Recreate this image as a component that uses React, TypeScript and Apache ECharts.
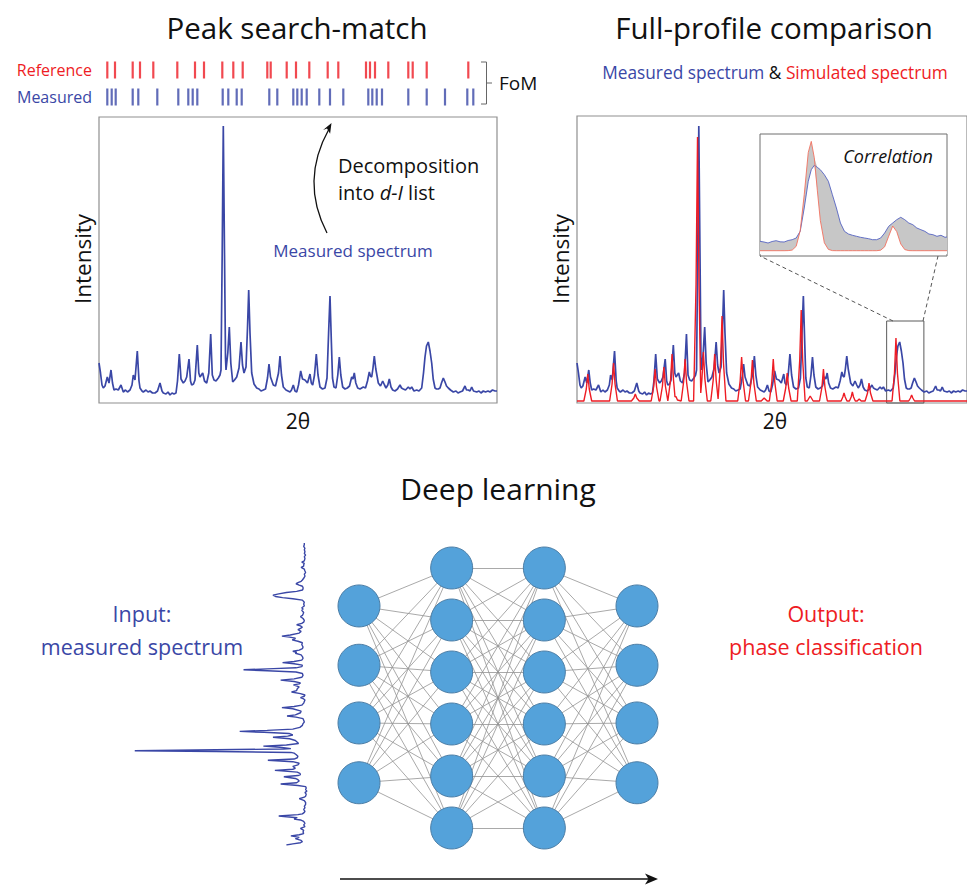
import React, { useEffect, useRef } from "react";
import * as echarts from "echarts";

// ---------- data (2θ and intensity in arbitrary units) ----------
const measured: [number, number][] = [
  [0,40],[1.5,30],[3,18],[4.3,15],[6,17],[8.3,26],[10,20],[12,33],[13.5,20],[15,13],[17,14],[19.3,13],[22,18],[24.3,11],[26.5,13],[28.5,11],[31,13],[33,18],[34.3,28],[36,23],[38.3,52],[40,22],[41,15],[43,12],[44.3,11],[47,13],[49,11],[51,12],[53.5,10],[56,10],[58.5,12],[61,20],[63,12],[64.3,10],[67,9],[69,11],[71,8],[73,10],[75,9],[77,10],[78.5,22],[80.3,49],[82,24],[84.3,20],[86,22],[87.7,26],[90,44],[91.5,22],[92.7,18],[94.5,19],[96,23],[98.3,58],[99.8,30],[101,26],[103.7,30],[105.5,22],[107.7,20],[109.8,30],[111.7,69],[113.3,28],[115,23],[117,22],[119.3,25],[121,28],[122,33],[123.2,150],[124.3,277],[125.5,150],[126.5,45],[127,33],[128.8,50],[130.3,76],[131.8,40],[133.7,21],[135.5,23],[137.7,26],[140,35],[142,61],[143.5,38],[145,30],[147,36],[148.5,75],[149.7,113],[151,70],[152.7,30],[155,19],[157.7,15],[160,14],[162,12],[164.3,13],[166.5,14],[168.5,25],[170,39],[171.5,26],[174.3,18],[176.5,17],[179.5,30],[181,47],[182.5,28],[184.3,16],[187,13],[189,12],[191,11],[192.5,13],[194.3,18],[196,12],[197.7,11],[199.5,18],[201.7,32],[203.5,24],[206,23],[208.5,20],[211,29],[212.3,20],[213.7,18],[215.5,28],[217.3,49],[219,28],[221,16],[223.5,14],[226,15],[228,25],[229.6,70],[231,107],[232.4,60],[233.5,25],[235,16],[237,15],[238.8,28],[240.3,46],[241.8,28],[243.7,16],[246,14],[248.3,15],[250.5,17],[252.7,26],[254,24],[255.3,30],[256.8,20],[258.7,15],[261,14],[264.3,16],[266.5,15],[268.5,22],[270.3,31],[271.5,27],[272.7,26],[274,35],[275.3,47],[276.8,34],[279.3,20],[281.5,17],[283.7,22],[285.5,18],[287,15],[288.8,18],[290.3,24],[292,16],[293.7,13],[296,12],[298.5,14],[301,18],[302.5,15],[304.3,14],[306.5,13],[309.3,16],[311,14],[312.7,16],[315,12],[317.7,13],[320,12],[322.7,15],[324.5,30],[326,46],[327.5,57],[329.3,61],[331,52],[332.7,40],[334.2,24],[336,15],[337.5,14],[339.3,14],[341,15],[342.5,20],[344.3,25],[346,21],[347.5,17],[349.3,15],[351.5,13],[354.3,11],[357,12],[359,10],[361,11],[363.5,12],[366,17],[367.5,13],[369.3,13],[371,12],[372.7,16],[374.5,12],[377.7,11],[380,12],[382,10],[384.3,12],[386.5,11],[389,12],[391,11],[393.5,13],[396,12],[398,12]
];

const simulated: [number, number][] = [
  [0,2],[7,2],[9.5,14],[11,29],[12.5,14],[15,2],[33.3,2],[35.8,19],[37.3,40],[38.8,19],[41.3,2],[55.5,2],[58,5],[59.5,9],[61,5],[63.5,2],
  [75.7,2],[78.2,16],[79.7,34],[81.2,16],[83.7,2],[84.7,2],[87.2,17],[88.7,36],[90.2,17],[92.7,2],[93,2],[95.5,23],[97,49],[98.5,23],[100,6],[101,6.5],[102.5,3],
  [106.3,2],[108.8,21],[110.3,44],[111.8,21],[114.3,2],[119,2],[121.5,119],[123,266],[124.5,119],[126.3,10],[127.5,24],[129,51],[130.5,24],[133,2],
  [136.5,2],[139,23],[140.5,49],[142,23],[144,4],[146.5,40],[148,87],[149.5,40],[152,2],[164,2],[166.5,22],[168,46],[169.5,22],[172,2],
  [175,2],[177.5,20],[179,43],[180.5,20],[183,2],[188,2],[191,5],[194,2],[196.3,2],[198.8,21],[200.3,44],[201.8,21],[204.3,2],
  [210.5,2],[213,15],[214.5,30],[216,15],[218.5,2],[224.8,2],[227.3,43],[228.8,93],[230.3,43],[232.8,2],[235,2],[238,7],[241,2],
  [247.5,2],[250,16],[251.5,34],[253,16],[255.5,2],[269.5,2],[271.3,6],[272.5,10],[273.7,6],[275.5,2],[278,2],[279.8,6],[281,11],[282.2,6],[284,2],
  [286,2],[288,4],[290,2],[294,2],[296.5,10],[298,20],[299.5,10],[302,2],[321.5,2],[324,30],[325.5,65],[327,30],[329.5,2],
  [338.5,2],[340.3,5],[341.5,8],[342.7,5],[344.5,2],[398,2]
];

// zoomed "Correlation" inset
const insetX = [0,4,8,12,16,20,24,28,32,36,40,44,48,51,54,57,60,64,68,72,76,80,84,88,92,96,100,104,108,112,116,120,124,128,132,136,140,144,148,152,156,160,164,168,172,176,180,184,186];
const insetMeasured = [12.7,12,11,12.5,13.3,12.2,12,13.5,14.3,16,22.7,46,72.7,84.3,88.7,86.7,84.3,79.3,72.7,59.3,46,31,22.7,20,18.7,17.7,16.7,16,15.3,14.3,14.3,16,21,27.7,31,34.3,36.7,34.3,31,29.3,26,24.3,22.7,20,19.3,17.7,18.7,16.7,17];
const insetSimulated = [3.3,3.3,3.3,3.3,3.3,3.3,3.3,3.4,3.9,7.7,23.3,59.4,101.5,112.6,96.3,63.9,33.6,11.2,4.6,3.4,3.3,3.3,3.3,3.3,3.3,3.3,3.3,3.3,3.3,3.3,3.3,3.8,7.2,17.8,28,22.4,10,4.4,3.4,3.3,3.3,3.3,3.3,3.3,3.3,3.3,3.3,3.3,3.3];

// d-I list tick marks
const referenceTicks = [8.3,16,33.7,41,54.3,78.3,96,105,123.3,134.3,143.7,168.3,171.7,187.7,197,210.3,228.7,239.3,267,271,276,289.3,309.3,313.7,327.7,369.3];
const measuredTicks = [8.3,12.7,16.7,33.7,39.3,58.3,79.3,89.3,93.7,98.3,123.7,129.3,137.7,142.7,170.3,178.3,194.3,198.3,202.7,207.7,220.3,231,244.3,269.3,273.3,277.7,283,309.3,327.7,346,368.3,374.3];

// neural network
const layerX = [1, 2, 3, 4];
const outerY = [1.77, 0.63, -0.48, -1.63];
const hiddenY = [2.5, 1.5, 0.5, -0.5, -1.5, -2.5];
const layerNodes = [outerY, hiddenY, hiddenY, outerY];

const BLUE = "#3a47a6";
const RED = "#ee1c24";
const F = "'Open Sans', 'Noto Sans', sans-serif";

export default function App() {
  const ref = useRef<HTMLDivElement>(null);
  useEffect(() => {
    if (!ref.current) return;
    const chart = echarts.init(ref.current, undefined, { renderer: "svg" });

    const insetUpper = insetX.map((x, i) => [x, Math.max(insetMeasured[i], insetSimulated[i])]);
    const insetLower = insetX.map((x, i) => [x, Math.min(insetMeasured[i], insetSimulated[i])]);

    const nodes: number[][] = [];
    layerNodes.forEach((ys, li) => ys.forEach((y) => nodes.push([layerX[li], y])));
    const edges: any[] = [];
    for (let li = 0; li < layerNodes.length - 1; li++) {
      layerNodes[li].forEach((ya) =>
        layerNodes[li + 1].forEach((yb) =>
          edges.push({ coords: [[layerX[li], ya], [layerX[li + 1], yb]] })
        )
      );
    }

    const txt = (x: number, y: number, text: string, size: number, fill: string, align = "center", extra: any = {}) => ({
      type: "text",
      x,
      y,
      ...extra,
      style: {
        text,
        fontSize: size,
        fontFamily: F,
        fill,
        align,
        textAlign: align,
        verticalAlign: "middle",
        textVerticalAlign: "middle",
        ...(extra.style || {}),
      },
    });

    const ax = (gridIndex: number, min: number, max: number, inverse = false) => ({
      type: "value",
      gridIndex,
      min,
      max,
      inverse,
      show: false,
      splitLine: { show: false },
    });

    const option: any = {
      animation: false,
      backgroundColor: "#ffffff",
      grid: [
        { left: 99, top: 117, width: 398, height: 286, show: true, borderColor: "#8f8f8f", borderWidth: 1.2 },
        { left: 577, top: 116, width: 398, height: 287, show: true, borderColor: "#8f8f8f", borderWidth: 1.2 },
        { left: 760, top: 134, width: 187, height: 122, show: true, borderColor: "#6e6e6e", borderWidth: 1, backgroundColor: "#ffffff" },
        { left: 99, top: 70, width: 398, height: 27 },
        { left: 129, top: 543, width: 183, height: 302 },
        { left: 312.67, top: 516, width: 370.67, height: 364 },
      ],
      xAxis: [ax(0, 0, 398), ax(1, 0, 398), ax(2, 0, 186), ax(3, 0, 398), ax(4, 0, 286, true), ax(5, 0.5, 4.5)],
      yAxis: [ax(0, 0, 286), ax(1, 0, 287), ax(2, -2, 120), ax(3, 0, 1), ax(4, 0, 398), ax(5, -3.5, 3.5)],
      series: [
        {
          type: "line", xAxisIndex: 0, yAxisIndex: 0, data: measured, symbol: "none",
          lineStyle: { color: BLUE, width: 1.7 }, z: 3,
        },
        {
          type: "line", xAxisIndex: 1, yAxisIndex: 1, data: measured, symbol: "none",
          lineStyle: { color: BLUE, width: 1.7 }, z: 3,
        },
        {
          type: "line", xAxisIndex: 1, yAxisIndex: 1, data: simulated, symbol: "none",
          lineStyle: { color: RED, width: 1.4 }, z: 4,
          markArea: {
            silent: true,
            itemStyle: { color: "rgba(0,0,0,0)", borderColor: "#5a5a5a", borderWidth: 1 },
            data: [[{ xAxis: 316, yAxis: 0 }, { xAxis: 354, yAxis: 82 }]],
          },
        },
        {
          type: "line", xAxisIndex: 2, yAxisIndex: 2, data: insetUpper, symbol: "none",
          lineStyle: { width: 0, opacity: 0 }, areaStyle: { color: "#c7c7c7", opacity: 1, origin: 0 }, z: 5,
        },
        {
          type: "line", xAxisIndex: 2, yAxisIndex: 2, data: insetLower, symbol: "none",
          lineStyle: { width: 0, opacity: 0 }, areaStyle: { color: "#ffffff", opacity: 1, origin: 0 }, z: 6,
        },
        {
          type: "line", xAxisIndex: 2, yAxisIndex: 2, data: insetX.map((x, i) => [x, insetMeasured[i]]), symbol: "none",
          lineStyle: { color: "#5563c2", width: 0.9 }, z: 7,
        },
        {
          type: "line", xAxisIndex: 2, yAxisIndex: 2, data: insetX.map((x, i) => [x, insetSimulated[i]]), symbol: "none",
          lineStyle: { color: "#f2705f", width: 0.9 }, z: 7,
        },
        {
          type: "scatter", xAxisIndex: 3, yAxisIndex: 3, data: referenceTicks.map((x) => [x, 1]),
          symbol: "rect", symbolSize: [2.2, 17], itemStyle: { color: RED },
        },
        {
          type: "scatter", xAxisIndex: 3, yAxisIndex: 3, data: measuredTicks.map((x) => [x, 0]),
          symbol: "rect", symbolSize: [2.2, 17], itemStyle: { color: BLUE },
        },
        {
          type: "line", xAxisIndex: 4, yAxisIndex: 4, data: measured.map(([t, i]) => [i, t]), symbol: "none",
          lineStyle: { color: BLUE, width: 1.4 },
        },
        {
          type: "lines", coordinateSystem: "cartesian2d", xAxisIndex: 5, yAxisIndex: 5, data: edges, silent: true,
          lineStyle: { color: "#939393", width: 0.8, opacity: 1 }, z: 2,
        },
        {
          type: "scatter", xAxisIndex: 5, yAxisIndex: 5, data: nodes, symbolSize: 42, silent: true,
          itemStyle: { color: "#54a2da", borderColor: "#4c7ea6", borderWidth: 1, opacity: 1 }, z: 3,
        },
      ],
      graphic: [
        txt(297, 27, "Peak search-match", 29.5, "#111"),
        txt(774, 27, "Full-profile comparison", 29.5, "#111"),
        txt(498, 488, "Deep learning", 30, "#111"),
        txt(92, 70, "Reference", 16, RED, "right"),
        txt(92, 97, "Measured", 16, BLUE, "right"),
        txt(499, 83, "FoM", 19, "#111", "left"),
        {
          type: "polyline", shape: { points: [[481, 62], [486.5, 62], [486.5, 104], [481, 104]] },
          style: { stroke: "#666", lineWidth: 1, fill: "none" },
        },
        { type: "line", shape: { x1: 486.5, y1: 83, x2: 492, y2: 83 }, style: { stroke: "#666", lineWidth: 1 } },
        txt(82, 259, "Intensity", 22.5, "#111", "center", { rotation: Math.PI / 2 }),
        txt(560, 259, "Intensity", 22.5, "#111", "center", { rotation: Math.PI / 2 }),
        txt(298, 421, "2θ", 21, "#111"),
        txt(775, 421, "2θ", 21, "#111"),
        txt(338, 165, "Decomposition", 20, "#111", "left"),
        txt(338, 192, "into {i|d-I} list", 20, "#111", "left", {
          style: { rich: { i: { fontStyle: "italic", fontSize: 20, fontFamily: F, fill: "#111" } } },
        }),
        txt(353, 250, "Measured spectrum", 17, BLUE),
        {
          type: "bezierCurve",
          shape: { x1: 327, y1: 233, x2: 329, y2: 129, cpx1: 300, cpy1: 181 },
          style: { stroke: "#111", lineWidth: 1.3, fill: "none" },
        },
        {
          type: "polygon",
          shape: { points: [[331.5, 123], [323.1, 129.9], [327, 128.5], [330.1, 133.8]] },
          style: { fill: "#111" },
        },
        txt(775, 72, "{b|Measured spectrum} {k|&} {r|Simulated spectrum}", 17.3, "#111", "center", {
          style: {
            rich: {
              b: { fill: BLUE, fontSize: 17.3, fontFamily: F },
              k: { fill: "#111", fontSize: 17.3, fontFamily: F },
              r: { fill: RED, fontSize: 17.3, fontFamily: F },
            },
          },
        }),
        txt(888, 156, "Correlation", 18, "#111", "center", { z: 10, style: { fontStyle: "italic" } }),
        {
          type: "line", shape: { x1: 893, y1: 321, x2: 760, y2: 256 },
          style: { stroke: "#555", lineWidth: 1, lineDash: [4, 3] },
        },
        {
          type: "line", shape: { x1: 923, y1: 321, x2: 938, y2: 256 },
          style: { stroke: "#555", lineWidth: 1, lineDash: [4, 3] },
        },
        txt(142, 613, "Input:", 21.5, BLUE),
        txt(142, 646, "measured spectrum", 21.5, BLUE),
        txt(826, 613, "Output:", 21.5, RED),
        txt(826, 646, "phase classification", 21.5, RED),
        { type: "line", shape: { x1: 340, y1: 879, x2: 650, y2: 879 }, style: { stroke: "#111", lineWidth: 1.4 } },
        { type: "polygon", shape: { points: [[658, 879], [645, 873.5], [648.5, 879], [645, 884.5]] }, style: { fill: "#111" } },
      ],
    };

    chart.setOption(option);
    return () => chart.dispose();
  }, []);

  return (
    <div
      ref={ref}
      style={{ position: "fixed", left: 0, top: 0, width: 967, height: 888, background: "#fff" }}
    />
  );
}
